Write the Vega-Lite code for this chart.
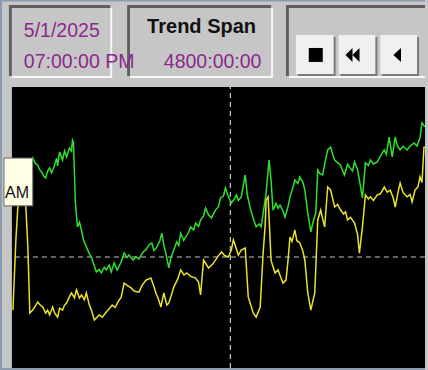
{
  "$schema": "https://vega.github.io/schema/vega-lite/v6.json",
  "width": 428,
  "height": 370,
  "autosize": {"type": "fit", "contains": "padding"},
  "padding": 0,
  "background": "#c6c6c6",
  "config": {"view": {"stroke": null}},
  "resolve": {"scale": {"color": "independent", "shape": "independent"}},
  "datasets": {
    "chrome": [
      {"part": "border", "t": -138.5, "t2": -115.4, "v": -0.71, "v2": 130.96},
      {"part": "border", "t": -138.5, "t2": 4800, "v": 130.4, "v2": 130.96},
      {"part": "border", "t": -138.5, "t2": 4800, "v": -0.71, "v2": 0},
      {"part": "shadow", "t": -34.6, "t2": 1142.3, "v": 103.9, "v2": 129.2},
      {"part": "highlight", "t": 0, "t2": 1165.3, "v": 103.2, "v2": 128.1},
      {"part": "face", "t": 0, "t2": 1142.3, "v": 103.9, "v2": 128.1},
      {"part": "shadow", "t": 1338.5, "t2": 3011.4, "v": 103.9, "v2": 129.2},
      {"part": "highlight", "t": 1373.0, "t2": 3034.5, "v": 103.2, "v2": 128.1},
      {"part": "face", "t": 1373.0, "t2": 3011.4, "v": 103.9, "v2": 128.1},
      {"part": "shadow", "t": 3184.5, "t2": 4800, "v": 103.9, "v2": 129.2},
      {"part": "highlight", "t": 3219.1, "t2": 4800, "v": 103.2, "v2": 128.1},
      {"part": "face", "t": 3219.1, "t2": 4800, "v": 103.9, "v2": 128.1},
      {"part": "btnshadow", "t": 3323.0, "t2": 3761.4, "v": 103.9, "v2": 117.8},
      {"part": "button", "t": 3299.9, "t2": 3738.3, "v": 104.6, "v2": 118.5},
      {"part": "btnshadow", "t": 3819.1, "t2": 4246.0, "v": 103.9, "v2": 117.8},
      {"part": "button", "t": 3796.0, "t2": 4222.9, "v": 104.6, "v2": 118.5},
      {"part": "btnshadow", "t": 4303.7, "t2": 4730.6, "v": 103.9, "v2": 117.8},
      {"part": "button", "t": 4280.6, "t2": 4707.5, "v": 104.6, "v2": 118.5},
      {"part": "plot", "t": 0, "t2": 4800, "v": 0, "v2": 100}
    ],
    "cursor": [
      {"t": 2538, "t2": 2538, "v": 0, "v2": 100},
      {"t": 34.6, "t2": 4800, "v": 39.5, "v2": 39.5}
    ],
    "trend": [
      {"series": "Trend 1", "t": 185, "v": 68.7}, {"series": "Trend 1", "t": 242, "v": 74.7}, {"series": "Trend 1", "t": 271, "v": 72.9}, {"series": "Trend 1", "t": 300, "v": 72.2}, {"series": "Trend 1", "t": 323, "v": 70.5}, {"series": "Trend 1", "t": 346, "v": 69.8}, {"series": "Trend 1", "t": 369, "v": 68.3}, {"series": "Trend 1", "t": 392, "v": 67.6}, {"series": "Trend 1", "t": 415, "v": 70.1}, {"series": "Trend 1", "t": 438, "v": 71.2}, {"series": "Trend 1", "t": 461, "v": 69.4}, {"series": "Trend 1", "t": 496, "v": 72.2}, {"series": "Trend 1", "t": 519, "v": 74.7}, {"series": "Trend 1", "t": 531, "v": 71.9}, {"series": "Trend 1", "t": 554, "v": 76.9}, {"series": "Trend 1", "t": 588, "v": 74.0}, {"series": "Trend 1", "t": 612, "v": 77.3}, {"series": "Trend 1", "t": 635, "v": 75.1}, {"series": "Trend 1", "t": 669, "v": 78.3}, {"series": "Trend 1", "t": 692, "v": 77.2}, {"series": "Trend 1", "t": 704, "v": 81.1}, {"series": "Trend 1", "t": 715, "v": 80.4}, {"series": "Trend 1", "t": 738, "v": 58.7}, {"series": "Trend 1", "t": 762, "v": 50.2}, {"series": "Trend 1", "t": 785, "v": 51.9}, {"series": "Trend 1", "t": 808, "v": 49.1}, {"series": "Trend 1", "t": 831, "v": 45.6}, {"series": "Trend 1", "t": 865, "v": 43.1}, {"series": "Trend 1", "t": 900, "v": 40.6}, {"series": "Trend 1", "t": 923, "v": 39.5}, {"series": "Trend 1", "t": 958, "v": 36.3}, {"series": "Trend 1", "t": 981, "v": 34.2}, {"series": "Trend 1", "t": 1015, "v": 35.1}, {"series": "Trend 1", "t": 1038, "v": 33.8}, {"series": "Trend 1", "t": 1073, "v": 35.8}, {"series": "Trend 1", "t": 1096, "v": 34.9}, {"series": "Trend 1", "t": 1131, "v": 36.6}, {"series": "Trend 1", "t": 1154, "v": 34.2}, {"series": "Trend 1", "t": 1188, "v": 37.4}, {"series": "Trend 1", "t": 1223, "v": 34.9}, {"series": "Trend 1", "t": 1269, "v": 37.7}, {"series": "Trend 1", "t": 1304, "v": 40.9}, {"series": "Trend 1", "t": 1338, "v": 39.3}, {"series": "Trend 1", "t": 1361, "v": 40.2}, {"series": "Trend 1", "t": 1408, "v": 38.4}, {"series": "Trend 1", "t": 1442, "v": 39.5}, {"series": "Trend 1", "t": 1477, "v": 38.8}, {"series": "Trend 1", "t": 1500, "v": 40.2}, {"series": "Trend 1", "t": 1535, "v": 41.6}, {"series": "Trend 1", "t": 1558, "v": 42.0}, {"series": "Trend 1", "t": 1592, "v": 43.8}, {"series": "Trend 1", "t": 1627, "v": 44.5}, {"series": "Trend 1", "t": 1650, "v": 41.8}, {"series": "Trend 1", "t": 1685, "v": 43.1}, {"series": "Trend 1", "t": 1719, "v": 45.3}, {"series": "Trend 1", "t": 1742, "v": 48.0}, {"series": "Trend 1", "t": 1765, "v": 43.7}, {"series": "Trend 1", "t": 1788, "v": 40.9}, {"series": "Trend 1", "t": 1823, "v": 35.6}, {"series": "Trend 1", "t": 1846, "v": 39.2}, {"series": "Trend 1", "t": 1881, "v": 42.0}, {"series": "Trend 1", "t": 1915, "v": 44.9}, {"series": "Trend 1", "t": 1938, "v": 43.6}, {"series": "Trend 1", "t": 1961, "v": 48.0}, {"series": "Trend 1", "t": 1996, "v": 45.4}, {"series": "Trend 1", "t": 2019, "v": 46.6}, {"series": "Trend 1", "t": 2054, "v": 48.3}, {"series": "Trend 1", "t": 2077, "v": 50.2}, {"series": "Trend 1", "t": 2112, "v": 49.1}, {"series": "Trend 1", "t": 2135, "v": 51.6}, {"series": "Trend 1", "t": 2169, "v": 50.4}, {"series": "Trend 1", "t": 2192, "v": 52.7}, {"series": "Trend 1", "t": 2227, "v": 54.1}, {"series": "Trend 1", "t": 2250, "v": 56.9}, {"series": "Trend 1", "t": 2285, "v": 54.4}, {"series": "Trend 1", "t": 2319, "v": 53.4}, {"series": "Trend 1", "t": 2365, "v": 56.2}, {"series": "Trend 1", "t": 2400, "v": 57.4}, {"series": "Trend 1", "t": 2423, "v": 60.5}, {"series": "Trend 1", "t": 2458, "v": 61.2}, {"series": "Trend 1", "t": 2481, "v": 64.1}, {"series": "Trend 1", "t": 2515, "v": 61.0}, {"series": "Trend 1", "t": 2550, "v": 58.7}, {"series": "Trend 1", "t": 2585, "v": 60.2}, {"series": "Trend 1", "t": 2608, "v": 61.6}, {"series": "Trend 1", "t": 2631, "v": 59.6}, {"series": "Trend 1", "t": 2665, "v": 60.9}, {"series": "Trend 1", "t": 2711, "v": 68.7}, {"series": "Trend 1", "t": 2734, "v": 61.8}, {"series": "Trend 1", "t": 2769, "v": 56.9}, {"series": "Trend 1", "t": 2804, "v": 53.2}, {"series": "Trend 1", "t": 2838, "v": 50.2}, {"series": "Trend 1", "t": 2873, "v": 51.3}, {"series": "Trend 1", "t": 2896, "v": 50.2}, {"series": "Trend 1", "t": 2931, "v": 57.5}, {"series": "Trend 1", "t": 2954, "v": 62.3}, {"series": "Trend 1", "t": 2988, "v": 74.0}, {"series": "Trend 1", "t": 3011, "v": 66.9}, {"series": "Trend 1", "t": 3034, "v": 56.2}, {"series": "Trend 1", "t": 3069, "v": 58.6}, {"series": "Trend 1", "t": 3092, "v": 56.8}, {"series": "Trend 1", "t": 3115, "v": 58.0}, {"series": "Trend 1", "t": 3150, "v": 55.9}, {"series": "Trend 1", "t": 3173, "v": 53.7}, {"series": "Trend 1", "t": 3208, "v": 57.4}, {"series": "Trend 1", "t": 3231, "v": 60.9}, {"series": "Trend 1", "t": 3265, "v": 64.2}, {"series": "Trend 1", "t": 3288, "v": 66.9}, {"series": "Trend 1", "t": 3323, "v": 65.7}, {"series": "Trend 1", "t": 3346, "v": 68.0}, {"series": "Trend 1", "t": 3381, "v": 66.1}, {"series": "Trend 1", "t": 3404, "v": 63.3}, {"series": "Trend 1", "t": 3438, "v": 55.2}, {"series": "Trend 1", "t": 3473, "v": 48.4}, {"series": "Trend 1", "t": 3496, "v": 51.6}, {"series": "Trend 1", "t": 3531, "v": 55.2}, {"series": "Trend 1", "t": 3554, "v": 70.5}, {"series": "Trend 1", "t": 3577, "v": 69.2}, {"series": "Trend 1", "t": 3611, "v": 68.7}, {"series": "Trend 1", "t": 3634, "v": 72.6}, {"series": "Trend 1", "t": 3669, "v": 77.6}, {"series": "Trend 1", "t": 3704, "v": 78.6}, {"series": "Trend 1", "t": 3727, "v": 76.1}, {"series": "Trend 1", "t": 3750, "v": 74.0}, {"series": "Trend 1", "t": 3785, "v": 73.1}, {"series": "Trend 1", "t": 3819, "v": 72.2}, {"series": "Trend 1", "t": 3842, "v": 70.3}, {"series": "Trend 1", "t": 3865, "v": 68.7}, {"series": "Trend 1", "t": 3900, "v": 72.5}, {"series": "Trend 1", "t": 3923, "v": 71.5}, {"series": "Trend 1", "t": 3958, "v": 70.1}, {"series": "Trend 1", "t": 3981, "v": 73.3}, {"series": "Trend 1", "t": 4015, "v": 70.8}, {"series": "Trend 1", "t": 4038, "v": 66.9}, {"series": "Trend 1", "t": 4073, "v": 60.5}, {"series": "Trend 1", "t": 4108, "v": 73.0}, {"series": "Trend 1", "t": 4142, "v": 72.1}, {"series": "Trend 1", "t": 4165, "v": 74.0}, {"series": "Trend 1", "t": 4200, "v": 72.6}, {"series": "Trend 1", "t": 4246, "v": 73.3}, {"series": "Trend 1", "t": 4281, "v": 75.4}, {"series": "Trend 1", "t": 4327, "v": 77.6}, {"series": "Trend 1", "t": 4350, "v": 76.0}, {"series": "Trend 1", "t": 4384, "v": 82.2}, {"series": "Trend 1", "t": 4419, "v": 75.1}, {"series": "Trend 1", "t": 4454, "v": 82.2}, {"series": "Trend 1", "t": 4477, "v": 79.3}, {"series": "Trend 1", "t": 4511, "v": 77.6}, {"series": "Trend 1", "t": 4546, "v": 78.9}, {"series": "Trend 1", "t": 4592, "v": 77.6}, {"series": "Trend 1", "t": 4627, "v": 79.0}, {"series": "Trend 1", "t": 4673, "v": 80.1}, {"series": "Trend 1", "t": 4707, "v": 79.0}, {"series": "Trend 1", "t": 4742, "v": 81.9}, {"series": "Trend 1", "t": 4765, "v": 87.2}, {"series": "Trend 1", "t": 4800, "v": 85.8},
      {"series": "Trend 2", "t": 12, "v": 20.6}, {"series": "Trend 2", "t": 46, "v": 45.6}, {"series": "Trend 2", "t": 69, "v": 57.3}, {"series": "Trend 2", "t": 115, "v": 60.9}, {"series": "Trend 2", "t": 162, "v": 57.3}, {"series": "Trend 2", "t": 185, "v": 43.1}, {"series": "Trend 2", "t": 208, "v": 19.6}, {"series": "Trend 2", "t": 242, "v": 20.6}, {"series": "Trend 2", "t": 271, "v": 22.0}, {"series": "Trend 2", "t": 300, "v": 23.5}, {"series": "Trend 2", "t": 323, "v": 22.6}, {"series": "Trend 2", "t": 358, "v": 21.7}, {"series": "Trend 2", "t": 392, "v": 19.5}, {"series": "Trend 2", "t": 415, "v": 20.6}, {"series": "Trend 2", "t": 438, "v": 18.9}, {"series": "Trend 2", "t": 473, "v": 21.7}, {"series": "Trend 2", "t": 496, "v": 19.6}, {"series": "Trend 2", "t": 531, "v": 18.1}, {"series": "Trend 2", "t": 554, "v": 21.3}, {"series": "Trend 2", "t": 588, "v": 20.6}, {"series": "Trend 2", "t": 612, "v": 22.4}, {"series": "Trend 2", "t": 635, "v": 23.1}, {"series": "Trend 2", "t": 669, "v": 25.4}, {"series": "Trend 2", "t": 692, "v": 26.7}, {"series": "Trend 2", "t": 727, "v": 25.0}, {"series": "Trend 2", "t": 750, "v": 27.8}, {"series": "Trend 2", "t": 785, "v": 24.9}, {"series": "Trend 2", "t": 808, "v": 26.0}, {"series": "Trend 2", "t": 842, "v": 24.3}, {"series": "Trend 2", "t": 865, "v": 26.7}, {"series": "Trend 2", "t": 900, "v": 22.4}, {"series": "Trend 2", "t": 923, "v": 20.6}, {"series": "Trend 2", "t": 958, "v": 17.1}, {"series": "Trend 2", "t": 1015, "v": 18.9}, {"series": "Trend 2", "t": 1050, "v": 18.1}, {"series": "Trend 2", "t": 1096, "v": 19.9}, {"series": "Trend 2", "t": 1131, "v": 21.1}, {"series": "Trend 2", "t": 1165, "v": 22.4}, {"series": "Trend 2", "t": 1200, "v": 21.6}, {"series": "Trend 2", "t": 1246, "v": 24.2}, {"series": "Trend 2", "t": 1269, "v": 25.1}, {"series": "Trend 2", "t": 1304, "v": 30.2}, {"series": "Trend 2", "t": 1338, "v": 29.4}, {"series": "Trend 2", "t": 1385, "v": 28.5}, {"series": "Trend 2", "t": 1420, "v": 27.4}, {"series": "Trend 2", "t": 1477, "v": 27.0}, {"series": "Trend 2", "t": 1512, "v": 29.4}, {"series": "Trend 2", "t": 1558, "v": 31.3}, {"series": "Trend 2", "t": 1615, "v": 32.0}, {"series": "Trend 2", "t": 1650, "v": 29.0}, {"series": "Trend 2", "t": 1673, "v": 26.7}, {"series": "Trend 2", "t": 1708, "v": 24.0}, {"series": "Trend 2", "t": 1731, "v": 21.7}, {"series": "Trend 2", "t": 1765, "v": 26.7}, {"series": "Trend 2", "t": 1800, "v": 22.4}, {"series": "Trend 2", "t": 1823, "v": 23.1}, {"series": "Trend 2", "t": 1858, "v": 26.4}, {"series": "Trend 2", "t": 1881, "v": 28.8}, {"series": "Trend 2", "t": 1927, "v": 31.7}, {"series": "Trend 2", "t": 1961, "v": 34.9}, {"series": "Trend 2", "t": 2000, "v": 33.1}, {"series": "Trend 2", "t": 2031, "v": 33.8}, {"series": "Trend 2", "t": 2077, "v": 32.6}, {"series": "Trend 2", "t": 2135, "v": 32.0}, {"series": "Trend 2", "t": 2169, "v": 30.5}, {"series": "Trend 2", "t": 2192, "v": 26.0}, {"series": "Trend 2", "t": 2227, "v": 38.4}, {"series": "Trend 2", "t": 2285, "v": 35.6}, {"series": "Trend 2", "t": 2331, "v": 36.9}, {"series": "Trend 2", "t": 2365, "v": 38.4}, {"series": "Trend 2", "t": 2400, "v": 40.0}, {"series": "Trend 2", "t": 2435, "v": 41.3}, {"series": "Trend 2", "t": 2469, "v": 40.1}, {"series": "Trend 2", "t": 2515, "v": 39.5}, {"series": "Trend 2", "t": 2550, "v": 42.1}, {"series": "Trend 2", "t": 2573, "v": 45.6}, {"series": "Trend 2", "t": 2608, "v": 42.4}, {"series": "Trend 2", "t": 2631, "v": 40.2}, {"series": "Trend 2", "t": 2665, "v": 42.0}, {"series": "Trend 2", "t": 2711, "v": 42.7}, {"series": "Trend 2", "t": 2746, "v": 25.3}, {"series": "Trend 2", "t": 2804, "v": 19.6}, {"series": "Trend 2", "t": 2838, "v": 18.1}, {"series": "Trend 2", "t": 2885, "v": 21.7}, {"series": "Trend 2", "t": 2919, "v": 40.9}, {"series": "Trend 2", "t": 2942, "v": 50.3}, {"series": "Trend 2", "t": 2954, "v": 59.8}, {"series": "Trend 2", "t": 2977, "v": 60.9}, {"series": "Trend 2", "t": 3011, "v": 38.4}, {"series": "Trend 2", "t": 3034, "v": 36.0}, {"series": "Trend 2", "t": 3058, "v": 33.8}, {"series": "Trend 2", "t": 3092, "v": 34.9}, {"series": "Trend 2", "t": 3127, "v": 32.0}, {"series": "Trend 2", "t": 3150, "v": 30.2}, {"series": "Trend 2", "t": 3185, "v": 31.3}, {"series": "Trend 2", "t": 3208, "v": 38.2}, {"series": "Trend 2", "t": 3231, "v": 46.6}, {"series": "Trend 2", "t": 3254, "v": 45.0}, {"series": "Trend 2", "t": 3288, "v": 49.1}, {"series": "Trend 2", "t": 3311, "v": 45.3}, {"series": "Trend 2", "t": 3346, "v": 44.5}, {"series": "Trend 2", "t": 3381, "v": 41.6}, {"series": "Trend 2", "t": 3404, "v": 38.4}, {"series": "Trend 2", "t": 3438, "v": 26.7}, {"series": "Trend 2", "t": 3473, "v": 20.6}, {"series": "Trend 2", "t": 3519, "v": 26.7}, {"series": "Trend 2", "t": 3554, "v": 52.7}, {"series": "Trend 2", "t": 3588, "v": 56.2}, {"series": "Trend 2", "t": 3611, "v": 53.0}, {"series": "Trend 2", "t": 3634, "v": 50.2}, {"series": "Trend 2", "t": 3669, "v": 64.4}, {"series": "Trend 2", "t": 3704, "v": 63.3}, {"series": "Trend 2", "t": 3750, "v": 57.3}, {"series": "Trend 2", "t": 3785, "v": 58.2}, {"series": "Trend 2", "t": 3819, "v": 56.2}, {"series": "Trend 2", "t": 3854, "v": 54.8}, {"series": "Trend 2", "t": 3877, "v": 55.6}, {"series": "Trend 2", "t": 3900, "v": 52.7}, {"series": "Trend 2", "t": 3935, "v": 53.6}, {"series": "Trend 2", "t": 3981, "v": 51.6}, {"series": "Trend 2", "t": 4015, "v": 47.8}, {"series": "Trend 2", "t": 4038, "v": 40.9}, {"series": "Trend 2", "t": 4073, "v": 50.2}, {"series": "Trend 2", "t": 4108, "v": 61.6}, {"series": "Trend 2", "t": 4142, "v": 60.2}, {"series": "Trend 2", "t": 4165, "v": 60.9}, {"series": "Trend 2", "t": 4200, "v": 59.6}, {"series": "Trend 2", "t": 4246, "v": 61.6}, {"series": "Trend 2", "t": 4281, "v": 62.0}, {"series": "Trend 2", "t": 4327, "v": 64.4}, {"series": "Trend 2", "t": 4361, "v": 62.6}, {"series": "Trend 2", "t": 4396, "v": 63.3}, {"series": "Trend 2", "t": 4431, "v": 60.5}, {"series": "Trend 2", "t": 4454, "v": 57.3}, {"series": "Trend 2", "t": 4488, "v": 62.8}, {"series": "Trend 2", "t": 4511, "v": 65.8}, {"series": "Trend 2", "t": 4546, "v": 62.4}, {"series": "Trend 2", "t": 4592, "v": 60.9}, {"series": "Trend 2", "t": 4627, "v": 61.7}, {"series": "Trend 2", "t": 4650, "v": 59.1}, {"series": "Trend 2", "t": 4684, "v": 63.3}, {"series": "Trend 2", "t": 4719, "v": 64.5}, {"series": "Trend 2", "t": 4742, "v": 68.0}, {"series": "Trend 2", "t": 4765, "v": 66.0}, {"series": "Trend 2", "t": 4788, "v": 78.6}, {"series": "Trend 2", "t": 4800, "v": 78.6}
    ],
    "tip": [
      {"label": "AM", "t": -92.3, "t2": 242.3, "v": 57.7, "v2": 74.7, "tx": -80.8, "vy": 60.5}
    ],
    "buttons": [
      {"glyph": "stop", "t": 3530.6, "v": 111.4},
      {"glyph": "rewind", "t": 3957.5, "v": 111.4},
      {"glyph": "back", "t": 4476.7, "v": 111.4}
    ],
    "labels": [
      {"label": "5/1/2025", "kind": "value", "t": 138.5, "v": 117.8},
      {"label": "07:00:00 PM", "kind": "value", "t": 138.5, "v": 106.8},
      {"label": "Trend Span", "kind": "title", "t": 2203.8, "v": 119.2},
      {"label": "4800:00:00", "kind": "value", "t": 1765.3, "v": 106.8}
    ]
  },
  "encoding": {
    "x": {"field": "t", "type": "quantitative", "axis": null, "scale": {"domain": [-138.5, 4800], "nice": false, "zero": false}},
    "y": {"field": "v", "type": "quantitative", "axis": null, "scale": {"domain": [-0.71, 130.96], "nice": false, "zero": false}}
  },
  "layer": [
    {
      "data": {"name": "chrome"},
      "mark": {"type": "rect"},
      "encoding": {
        "x2": {"field": "t2"},
        "y2": {"field": "v2"},
        "color": {"field": "part", "type": "nominal", "legend": null, "scale": {"domain": ["border", "shadow", "highlight", "face", "btnshadow", "button", "plot"], "range": ["#8b9bb0", "#5e5e5e", "#f6f6f6", "#c6c6c6", "#7a7a7a", "#f0f0f0", "#000000"]}}
      }
    },
    {
      "data": {"name": "cursor"},
      "mark": {"type": "rule", "color": "#c8c8c8", "strokeDash": [5, 4], "strokeWidth": 1.2},
      "encoding": {"x2": {"field": "t2"}, "y2": {"field": "v2"}}
    },
    {
      "data": {"name": "trend"},
      "mark": {"type": "line", "strokeWidth": 1.5, "interpolate": "linear"},
      "encoding": {
        "stroke": {"field": "series", "type": "nominal", "legend": null, "scale": {"domain": ["Trend 1", "Trend 2"], "range": ["#2ee02e", "#e8e22a"]}}
      }
    },
    {
      "data": {"name": "tip"},
      "mark": {"type": "rect", "fill": "#fffde4", "stroke": "#6b6b6b", "strokeWidth": 1},
      "encoding": {"x2": {"field": "t2"}, "y2": {"field": "v2"}}
    },
    {
      "data": {"name": "tip"},
      "mark": {"type": "text", "align": "left", "baseline": "alphabetic", "font": "Liberation Sans", "fontSize": 16, "color": "#111111"},
      "encoding": {"x": {"field": "tx", "type": "quantitative"}, "y": {"field": "vy", "type": "quantitative"}, "text": {"field": "label"}}
    },
    {
      "data": {"name": "buttons"},
      "mark": {"type": "point", "filled": true, "opacity": 1, "size": 196, "color": "#000000"},
      "encoding": {
        "shape": {"field": "glyph", "type": "nominal", "legend": null, "scale": {"domain": ["stop", "rewind", "back"], "range": ["square", "M-1,0L0,-1L0,1ZM0,0L1,-1L1,1Z", "M-0.55,0L0.55,-1L0.55,1Z"]}}
      }
    },
    {
      "data": {"name": "labels"},
      "transform": [{"filter": "datum.kind === 'value'"}],
      "mark": {"type": "text", "align": "left", "baseline": "alphabetic", "font": "Liberation Sans", "fontSize": 19.5, "color": "#8b2a8e"},
      "encoding": {"text": {"field": "label"}}
    },
    {
      "data": {"name": "labels"},
      "transform": [{"filter": "datum.kind === 'title'"}],
      "mark": {"type": "text", "align": "center", "baseline": "alphabetic", "font": "Liberation Sans", "fontSize": 20, "fontWeight": "bold", "color": "#111111"},
      "encoding": {"text": {"field": "label"}}
    }
  ]
}
